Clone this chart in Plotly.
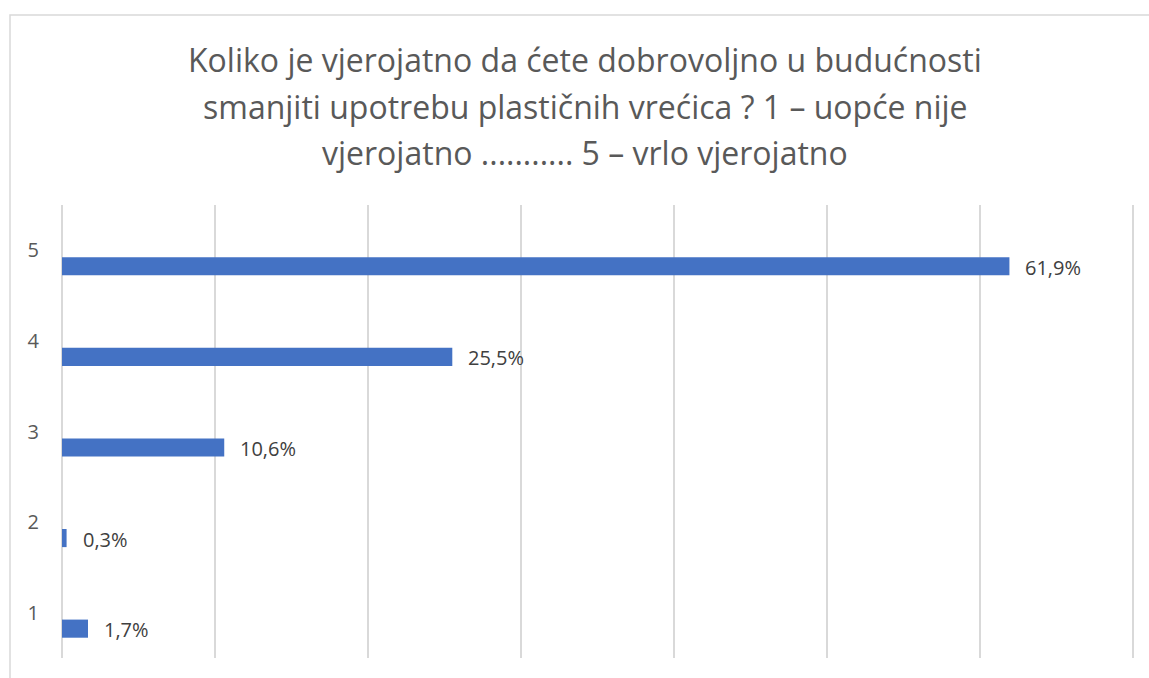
import plotly.graph_objects as go

categories = ["1", "2", "3", "4", "5"]
values = [1.7, 0.3, 10.6, 25.5, 61.9]
labels = [f"{v:.1f}%".replace(".", ",") for v in values]

title_lines = ["Koliko je vjerojatno da ćete dobrovoljno u budućnosti",
               "smanjiti upotrebu plastičnih vrećica ? 1 – uopće nije",
               "vjerojatno ........... 5 – vrlo vjerojatno"]

W, H = 1149, 678
ml, mr, mt, mb = 62, 11, 205, 20
pw, ph = W - ml - mr, H - mt - mb

fig = go.Figure()
fig.add_trace(go.Bar(
    y=categories, x=values, orientation="h",
    marker=dict(color="#4472C4", line=dict(width=0)),
    width=0.2, offset=-0.276,
    hoverinfo="skip",
))

for i, (v, t) in enumerate(zip(values, labels)):
    fig.add_annotation(x=v, y=i, text=t, showarrow=False, xanchor="left",
                       yanchor="middle", xshift=14, yshift=-17,
                       font=dict(family="Open Sans", size=20, color="#404040"))

# title lines as annotations (centred, Excel-like line spacing)
for k, line in enumerate(title_lines):
    fig.add_annotation(xref="paper", yref="paper", x=(585 - ml) / pw,
                       y=1 + (mt - (60 + 46 * k)) / ph,
                       xanchor="center", yanchor="middle",
                       text=line, showarrow=False,
                       font=dict(family="Open Sans", size=32, color="#595959"))

# outer chart border
bx0 = (10 - ml) / pw
by1 = 1 + (mt - 15) / ph
fig.add_shape(type="rect", xref="paper", yref="paper",
              x0=bx0, x1=1 + (mr + 20) / pw, y0=-(mb + 20) / ph, y1=by1,
              line=dict(color="#d9d9d9", width=1.5), fillcolor="rgba(0,0,0,0)")

fig.update_layout(
    width=W, height=H,
    margin=dict(l=ml, r=mr, t=mt, b=mb),
    paper_bgcolor="white", plot_bgcolor="white",
    showlegend=False,
    xaxis=dict(range=[0, 70.3], dtick=10, showticklabels=False,
               showgrid=True, gridcolor="#d9d9d9", gridwidth=1.5,
               zeroline=True, zerolinecolor="#d9d9d9", zerolinewidth=1.5,
               showline=False, fixedrange=True),
    yaxis=dict(type="category", range=[-0.5, 4.5], showgrid=False,
               showline=False, zeroline=False, ticks="",
               ticklabelstandoff=22, fixedrange=True,
               tickfont=dict(family="Open Sans", size=20, color="#595959")),
)

fig.write_html("out.html", config={"displayModeBar": False})

with open("out.html", "r", encoding="utf-8") as f:
    html = f.read()
html = html.replace("<head>", "<head><style>html,body{margin:0;padding:0;}</style>", 1)
with open("out.html", "w", encoding="utf-8") as f:
    f.write(html)
